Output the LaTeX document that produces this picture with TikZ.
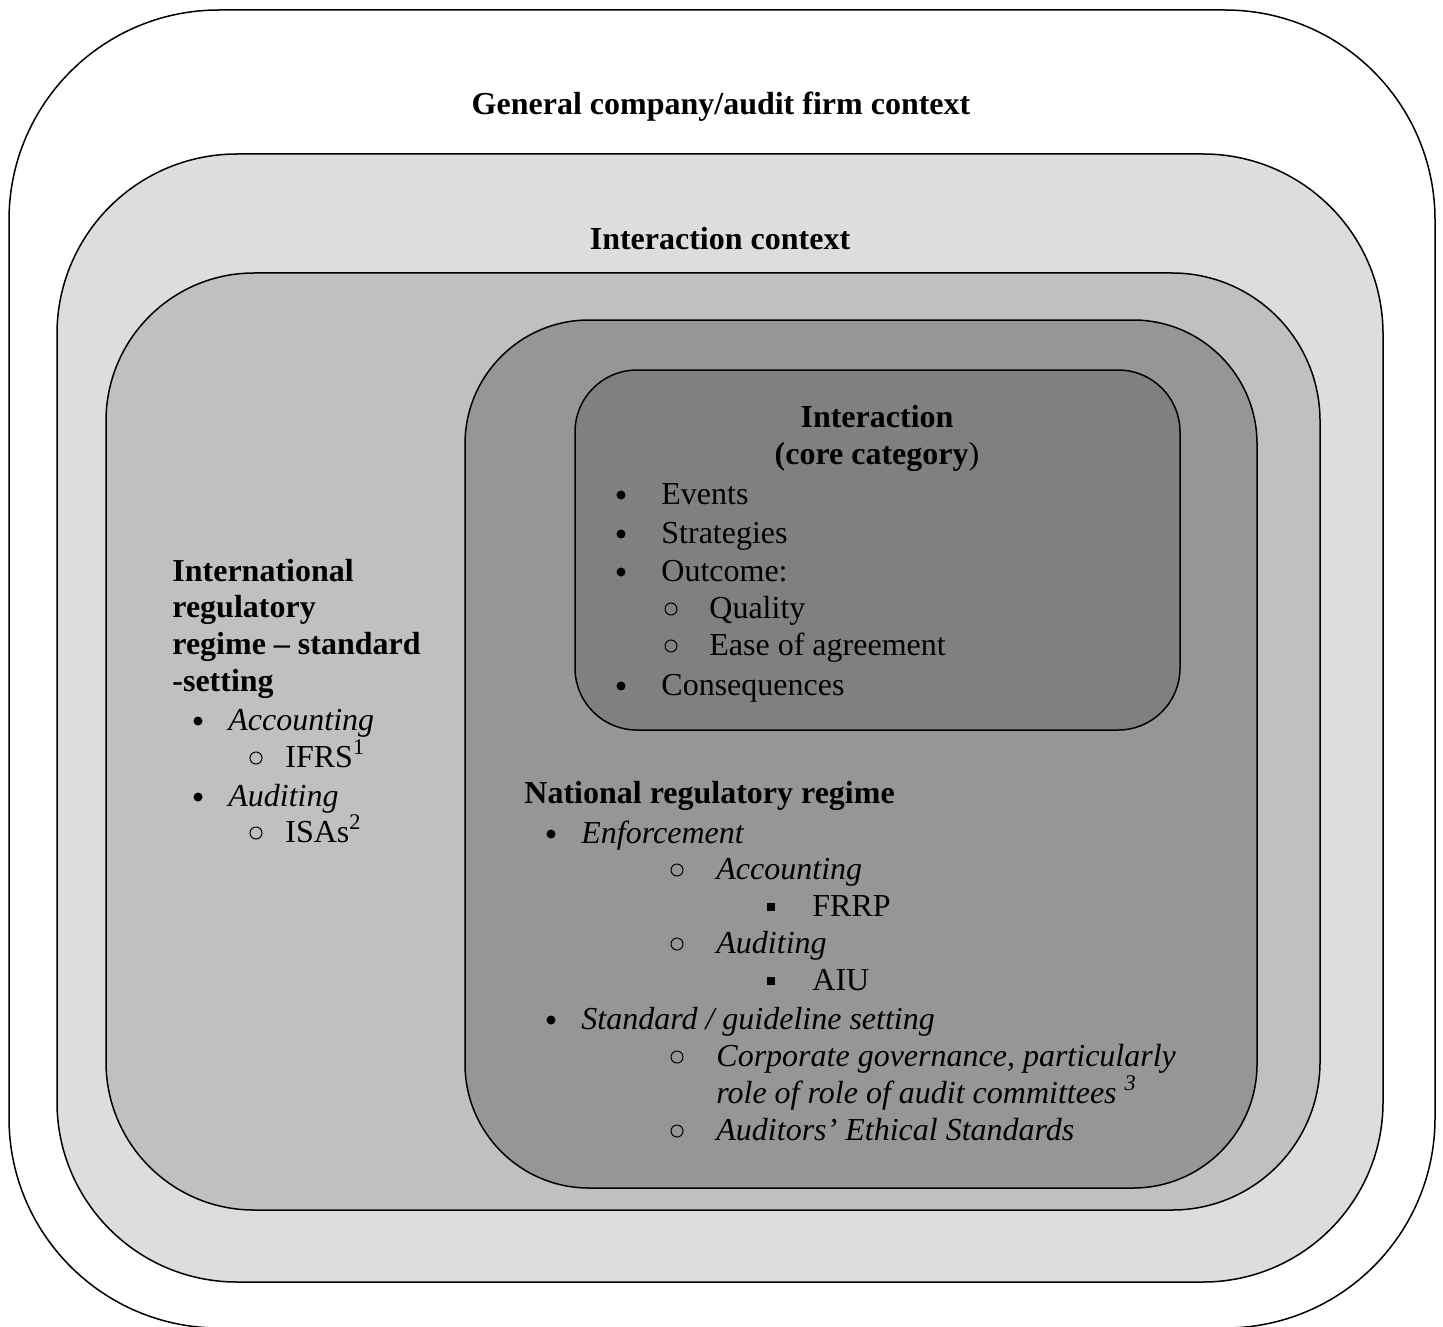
\documentclass[tikz,border=0pt]{standalone}
\usepackage{fontspec}
\setmainfont{Liberation Serif}
\usepackage{tikz}
\usetikzlibrary{positioning}

\definecolor{ringA}{HTML}{DDDDDD}
\definecolor{ringB}{HTML}{C0C0C0}
\definecolor{ringC}{HTML}{969696}
\definecolor{ringD}{HTML}{808080}

\begin{document}
\begin{tikzpicture}[x=0.5pt, y=-0.5pt,
    frame/.style={draw, line width=0.75pt},
    txt/.style={anchor=base west, inner sep=0pt, font=\fontsize{16}{18}\selectfont},
    ital/.style={txt, font=\fontsize{16}{18}\selectfont\itshape},
    head/.style={txt, font=\fontsize{16}{18}\selectfont\bfseries},
    title/.style={anchor=base, inner sep=0pt, font=\fontsize{16}{18}\selectfont\bfseries},
    dot/.style={circle, fill, inner sep=0pt, minimum size=4.5pt},
    ring/.style={circle, draw, line width=0.5pt, inner sep=0pt, minimum size=6pt},
    sq/.style={rectangle, fill, inner sep=0pt, minimum size=3.8pt}
    ]
    \useasboundingbox (0,0) rectangle (1443,1326);

    % nested context frames
    \draw[frame, fill=white, rounded corners=105pt] (9,10) rectangle (1435,1328);
    \draw[frame, fill=ringA, rounded corners=90pt] (57,154) rectangle (1383,1282);
    \draw[frame, fill=ringB, rounded corners=74pt] (106,273) rectangle (1320,1210);
    \draw[frame, fill=ringC, rounded corners=62pt] (465,320) rectangle (1257,1188);
    \draw[frame, fill=ringD, rounded corners=31pt] (575,370) rectangle (1180,730);

    \node[title] (general) at (721,115) {General company/audit firm context};
    \node[title] (context) at (720,250) {Interaction context};

    % international regime
    \node[head] (intl1) at (172,581) {International};
    \node[head] (intl2) at (172,617) {regulatory};
    \node[head] (intl3) at (172,654) {regime -- standard};
    \node[head] (intl4) at (172,691) {-setting};
    \node[dot] (ib1) at (198,721) {};
    \node[ital] (iacc) at (228,730) {Accounting};
    \node[ring] (ir1) at (256,758) {};
    \node[txt] (ifrs) at (285,767) {IFRS\textsuperscript{1}};
    \node[dot] (ib2) at (198,797) {};
    \node[ital] (iaud) at (228,806) {Auditing};
    \node[ring] (ir2) at (256,833) {};
    \node[txt] (isas) at (285,842) {ISAs\textsuperscript{2}};

    % core category
    \node[title] (core1) at (877,427) {Interaction};
    \node[title] (core2) at (877,464) {(core category\textmd{)}};
    \node[dot] (cb1) at (621,495) {};
    \node[txt] (events) at (661,504) {Events};
    \node[dot] (cb2) at (621,534) {};
    \node[txt] (strat) at (661,543) {Strategies};
    \node[dot] (cb3) at (621,572) {};
    \node[txt] (outcome) at (661,581) {Outcome:};
    \node[ring] (cr1) at (671,609) {};
    \node[txt] (quality) at (709,618) {Quality};
    \node[ring] (cr2) at (671,646) {};
    \node[txt] (ease) at (709,655) {Ease of agreement};
    \node[dot] (cb4) at (621,686) {};
    \node[txt] (conseq) at (661,695) {Consequences};

    % national regime
    \node[head] (natl) at (524,803) {National regulatory regime};
    \node[dot] (nb1) at (551,834) {};
    \node[ital] (enf) at (581,843) {Enforcement};
    \node[ring] (nr1) at (677,870) {};
    \node[ital] (nacc) at (716,879) {Accounting};
    \node[sq] (ns1) at (771,907) {};
    \node[txt] (frrp) at (812,916) {FRRP};
    \node[ring] (nr2) at (677,944) {};
    \node[ital] (naud) at (716,953) {Auditing};
    \node[sq] (ns2) at (771,981) {};
    \node[txt] (aiu) at (812,990) {AIU};
    \node[dot] (nb2) at (551,1020) {};
    \node[ital] (stdset) at (581,1029) {Standard / guideline setting};
    \node[ring] (nr3) at (677,1057) {};
    \node[ital] (corp1) at (716,1066) {Corporate governance, particularly};
    \node[ital] (corp2) at (716,1103) {role of role of audit committees \textsuperscript{3}};
    \node[ring] (nr4) at (677,1131) {};
    \node[ital] (ethic) at (716,1140) {Auditors’ Ethical Standards};
\end{tikzpicture}
\end{document}
